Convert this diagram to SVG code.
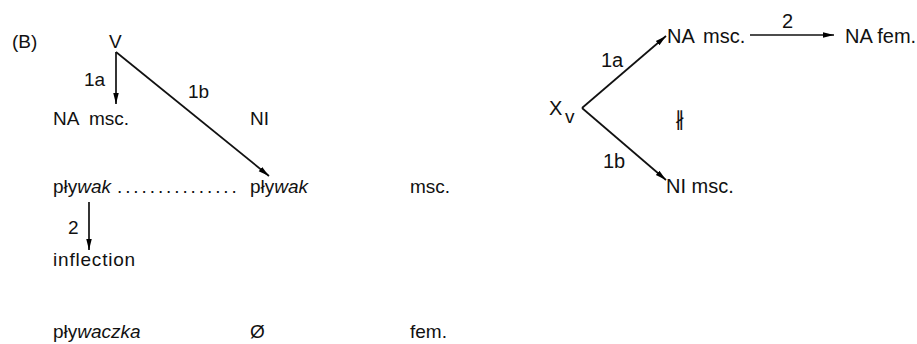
<svg xmlns="http://www.w3.org/2000/svg" width="917" height="344" viewBox="0 0 917 344">
<defs>
<marker id="ah" viewBox="0 0 10 10" refX="10" refY="5" markerWidth="11" markerHeight="11" markerUnits="userSpaceOnUse" orient="auto">
<path d="M0,2.5 L10,5 L0,7.5 Z" fill="#000"/>
</marker>
<style>
text{font-family:"Liberation Sans","DejaVu Sans",sans-serif;font-size:19px;fill:#111}
.r{font-size:20px}
.i{font-style:italic}
.c line{stroke:#111;stroke-width:1.7;fill:none}
</style>
</defs>
<rect width="917" height="344" fill="#fff"/>
<g id="label-B"><text x="12" y="48">(B)</text></g>
<g id="V"><text x="109" y="48">V</text></g>
<g id="NA-msc-left"><text x="53" y="125">NA</text><text x="89" y="125">msc.</text></g>
<g id="NI-left"><text x="250" y="125">NI</text></g>
<g id="plywak1"><text x="53" y="193">pły<tspan class="i">wak</tspan></text><text x="117" y="193" letter-spacing="2.9">...............</text></g>
<g id="plywak2"><text x="250" y="193">pły<tspan class="i">wak</tspan></text></g>
<g id="msc"><text x="410" y="193">msc.</text></g>
<g id="inflection"><text x="53" y="266" letter-spacing="0.8">inflection</text></g>
<g id="plywaczka"><text x="53" y="338">pły<tspan class="i">waczka</tspan></text></g>
<g id="empty"><text x="250" y="338">Ø</text></g>
<g id="fem"><text x="410" y="338">fem.</text></g>
<g id="Xv"><text class="r" x="549" y="115" font-size="22">X</text><text x="565" y="123" font-size="14">v</text></g>
<g id="NA-msc-right"><text class="r" x="667" y="43">NA</text><text class="r" x="703" y="43">msc.</text></g>
<g id="NA-fem"><text class="r" x="845" y="43">NA fem.</text></g>
<g id="NI-msc"><text class="r" x="666" y="193">NI msc.</text></g>
<g id="notpar"><text class="r" x="675" y="126">∦</text></g>
<g class="c" id="connectors">
<line x1="116" y1="52" x2="116" y2="104" marker-end="url(#ah)"/>
<text x="84" y="86">1a</text>
<line x1="116" y1="52" x2="269" y2="176" marker-end="url(#ah)"/>
<text x="188" y="98">1b</text>
<line x1="89" y1="202" x2="89" y2="250" marker-end="url(#ah)"/>
<text x="68" y="234">2</text>
<line x1="582" y1="108" x2="666" y2="36" marker-end="url(#ah)"/>
<text class="r" x="601" y="67">1a</text>
<line x1="582" y1="108" x2="666" y2="180" marker-end="url(#ah)"/>
<text class="r" x="603" y="168">1b</text>
<line x1="750" y1="35" x2="834" y2="35" marker-end="url(#ah)"/>
<text class="r" x="782" y="28">2</text>
</g>
</svg>
